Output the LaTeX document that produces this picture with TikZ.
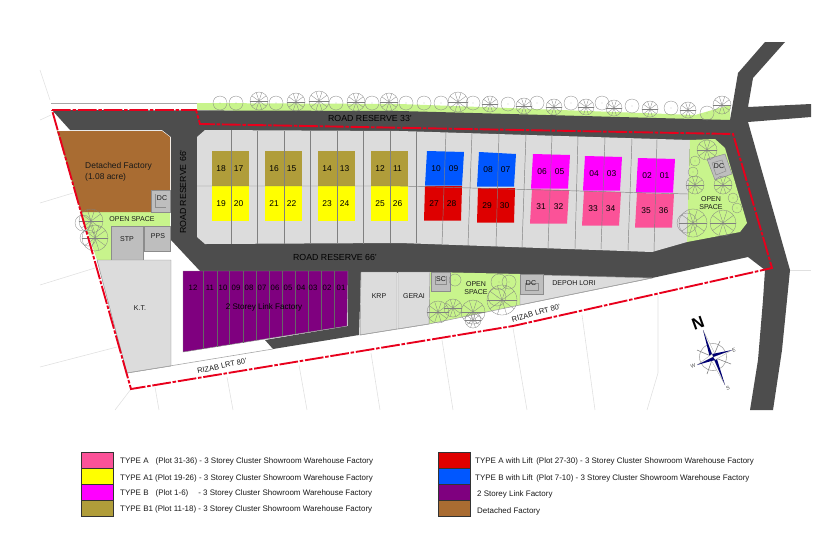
\documentclass[tikz,border=0pt]{standalone}
\usepackage{fontspec}
\setmainfont{Liberation Sans}
\definecolor{roadc}{HTML}{4D4D4D}
\definecolor{lotc}{HTML}{DCDCDC}
\definecolor{greenc}{HTML}{C8F48C}
\definecolor{boxc}{HTML}{BEBEBE}
\definecolor{tyac}{HTML}{FB5298}
\definecolor{tyaoc}{HTML}{FFFF00}
\definecolor{tybc}{HTML}{FF00FF}
\definecolor{tyboc}{HTML}{B09D3A}
\definecolor{tyalc}{HTML}{DE0000}
\definecolor{tyblc}{HTML}{0057FF}
\definecolor{linkc}{HTML}{7F007F}
\definecolor{detc}{HTML}{A96C32}
\definecolor{redline}{HTML}{E8001C}
\tikzset{
  siteline/.style={draw=black!12,line width=0.5pt},
  edgeline/.style={draw=black!45,line width=0.4pt},
  lotline/.style={draw=black!50,line width=0.4pt},
  treeline/.style={draw=black!50,line width=0.25pt},
  boundary/.style={draw=redline,line width=1.6pt,dash pattern=on 16pt off 1.5pt on 3pt off 1.5pt},
  lbl/.style={inner sep=0pt,font=\fontsize{6}{7}\selectfont,text=black!90},
  roadlbl/.style={lbl,font=\fontsize{7.5}{8}\selectfont,text=black},
  numlbl/.style={lbl,font=\fontsize{7.2}{8}\selectfont,text=black},
  keylbl/.style={inner sep=0pt,anchor=west,font=\fontsize{6.8}{8}\selectfont,text=black!90},
  keybox/.style={draw=black!80,line width=0.7pt},
  dirlbl/.style={inner sep=0pt,font=\fontsize{4.5}{5}\selectfont,rotate=20,text=black!70},
}
\newcommand{\plaintree}[3]{\draw[treeline](#1,#2)circle[radius=#3];\fill[black!55](#1,#2)circle[radius=0.4];}
\newcommand{\radtree}[3]{\draw[treeline](#1,#2)circle[radius=#3];\foreach \ang in {0,36,...,324}\draw[treeline](#1,#2)--++(\ang:#3);}
\begin{document}
\begin{tikzpicture}[x=0.03cm,y=-0.03cm]
\useasboundingbox (0,0) rectangle (825,550);
%site lines
\foreach \xa/\ya/\xb/\yb in {40/70/50/100,40/120/51/115,40/203/73/193,40/285/95/268,40/367/117/347,115/410/131/389,155/387/159/410,227/377/233/410,299/365/307/410,371/353/380/410,442/340/453/410,513/328/527/410,582/315/595/410,790/270/811/270}
  \draw[siteline](\xa,\ya)--(\xb,\yb);
\draw[siteline](658,295)--(658,373)--(647,410);
\draw[draw=black!35,line width=0.5pt](51,103)--(197,103);
%green strip
\fill[greenc](197,103)--(400,104)--(695,115)--(730,105)--(730,121)--(197,110)--cycle;
%roads
\fill[roadc](52,110)--(400,111)--(730,120)--(738,73)--(765,42)--(785,42)--(753,78)--(748,107)--(811,104)--(811,117)--(748,122)--(790,270)--(787,300)--(782,350)--(773,410)--(750,410)--(758,360)--(763,300)--(765,270)--(748,257)--(652,278)--(361,272)--(359,335)--(273,349)--(265,340)--(348,326)--(348,271)--(200,271)--(171,240)--(171,137)--(162,130)--(70,130)--cycle;
%plot block
\fill[lotc](197,137)--(205,130)--(400,131)--(690,140)--(687,242)--(652,252)--(400,243)--(205,244)--(197,237)--cycle;
%open spaces
\fill[greenc](690,140)--(715,139)--(725,148)--(747,223)--(740,232)--(687,242)--cycle;
\fill[greenc](81,212)--(170,212)--(170,226)--(111,226)--(111,260)--(97,260)--cycle;
\fill[greenc](430,272)--(520,274)--(520,305)--(429,324)--cycle;
%detached factory
\fill[detc](57,131)--(162,131)--(170,137)--(170,190)--(151,190)--(151,212)--(81,212)--cycle;
\draw[edgeline,fill=boxc](151,190)rectangle(170,212);
\draw[edgeline](155,194)--(155,207)--(166,207);
\draw[edgeline,fill=boxc](111,226)rectangle(143,260);
\draw[edgeline,fill=boxc](144,226)rectangle(170,251);
\draw[edgeline,fill=lotc](97,260)--(171,260)--(171,366)--(127,373)--cycle;
%link factory
\draw[edgeline,fill=linkc](183,271)--(348,271)--(347,326)--(183,352)--cycle;
\foreach \lx in {203,217,229,243,256,269,282,295,308,321,334}
  \draw[lotline,draw=black!60](\lx,271)--(\lx,{352-(\lx-183)*0.1585});
%lower lots
\draw[edgeline,fill=lotc](361,272)--(397,272)--(397,329)--(360,335)--cycle;
\draw[edgeline,fill=lotc](398,272)--(430,272)--(429,324)--(398,329)--cycle;
\draw[edgeline,fill=lotc](543,275)--(652,278)--(520,305)--(520,294)--(543,294)--cycle;
\draw[edgeline,fill=boxc](431,272)rectangle(450,291);
\draw[edgeline](435,276)--(435,284)--(446,284)--(446,276);
\draw[edgeline,fill=boxc](520,274)rectangle(543,294);
\draw[edgeline](525,283)rectangle(538,290);
\draw[edgeline,fill=boxc](707,159)--(725,154)--(732,174)--(715,180)--cycle;
\draw[edgeline](712,163)--(722,160)--(726,171)--(716,175)--cycle;
\draw[black!35,line width=0.5pt](127,373)--(273,349);
\draw[black!35,line width=0.5pt](360,335)--(429,324)--(520,305)--(652,278);
%showroom plots
\foreach \colr/\xa/\ya/\dy/\sl/\na/\nb in {
  tyboc/212/151/0/0/18/17,tyaoc/212/186/0/0/19/20,
  tyboc/265/151/0/0/16/15,tyaoc/265/186/0/0/21/22,
  tyboc/318/151/0/0/14/13,tyaoc/318/186/0/0/23/24,
  tyboc/371/151/0/0/12/11,tyaoc/371/186/0/0/25/26,
  tyblc/427/151/1/2/10/09,tyalc/425/186/0/1/27/28,
  tyblc/479/152/2/2/08/07,tyalc/478/188/0/1/29/30,
  tybc/533/154/1/2/06/05,tyac/532/189/1/2/31/32,
  tybc/585/156/1/2/04/03,tyac/584/191/1/2/33/34,
  tybc/638/158/1/2/02/01,tyac/637/193/1/2/35/36}{
  \fill[\colr](\xa,\ya)--({\xa+37},{\ya+\dy})--({\xa+37-\sl},{\ya+34.5})--({\xa-\sl},{\ya+34.5})--cycle;
  \node[numlbl](n\na\colr)at({\xa+9},{\ya+17.5}){\na};
  \node[numlbl](n\nb\colr)at({\xa+26.5},{\ya+17.5}){\nb};
}
%lot lines
\foreach \xa/\ya/\xb/\yb in {231/130/231/244,257/131/257/244,284/131/284/244,310/131/310/244,337/131/337/244,363/131/363/244,390/131/390/243,416/131/416/243,446/131.5/442/244,472/132.5/468/245,499/133/496/246,526/134/522/247,552/135/548/248,578/136/575/248.5,605/137/601/249,632/138/628/250,657/139/654/251}
  \draw[lotline](\xa,\ya)--(\xb,\yb);
\draw[lotline](197,186)--(400,186)--(688,194);
%trees
\foreach \tx/\ty/\tr in {220/103/7,236/103/7,276/103/7,336/103/7,372/103/7,406/103/7,424/103/7,441/103/7,473/103/7,508/104/7,537/103/7,571/103/7,602/103/7,632/106/7,671/108/7,707/113/7,695/161/5,693/172/5,733/198/5,737/208/5,687/223/10,83/223/8,88/238/8,455/280/6,499/282/8,509/282/7,497/297/9}
  {\plaintree{\tx}{\ty}{\tr}}
\foreach \tx/\ty/\tr in {259/101/9,296/102/9,319/101/10,356/102/9,389/102/9,458/102/10,490/104/8,524/106/8,554/107/8,586/107/8,614/108/8,650/109/8,688/110/8,722/105/9,707/150/10,695/185/9,723/185/9,693/223/14,723/223/13,91/221/12,95/238/13,438/312/11,453/308/9,473/312/12,502/300/15,473/320/8}
  {\radtree{\tx}{\ty}{\tr}}
%boundary
\draw[boundary](52,110)--(196,110)--(200,124)--(733,134)--(772,268)--(513,326)--(131,389)--cycle;
%road and area labels
\node[roadlbl](roadtop)at(370,118){ROAD RESERVE 33'};
\node[roadlbl](roadmid)at(335,257){ROAD RESERVE 66'};
\node[roadlbl,rotate=90](roadleft)at(183,192){ROAD RESERVE 66'};
\node[lbl,font=\fontsize{7.2}{9.5}\selectfont,align=left,anchor=west](detached)at(85,172){Detached Factory\\(1.08 acre)};
\node[lbl](openleft)at(132,219){OPEN SPACE};
\node[lbl](stp)at(127,239){STP};
\node[lbl](pps)at(158,236){PPS};
\node[lbl](dcleft)at(162,198){DC};
\node[lbl](kt)at(140,308){K.T.};
\node[lbl,font=\fontsize{6.9}{8}\selectfont,text=black](linklbl)at(264,307){2 Storey Link Factory};
\foreach \nx/\lnum in {193/12,210/11,223/10,236/09,249/08,262/07,275/06,288/05,301/04,313/03,327/02,341/01}
  \node[lbl,font=\fontsize{6.6}{8}\selectfont,text=black](link\lnum)at(\nx,288){\lnum};
\node[lbl](krp)at(379,296){KRP};
\node[lbl](gerai)at(414,296){GERAI};
\node[lbl](sc)at(441,279){SC};
\node[lbl](dclow)at(531,283){DC};
\node[lbl](depoh)at(574,283){DEPOH LORI};
\node[lbl,align=center](openlow)at(476,288){OPEN\\SPACE};
\node[lbl,align=center](openright)at(711,203){OPEN\\SPACE};
\node[lbl](dcright)at(719,166){DC};
\node[lbl,font=\fontsize{6.4}{8}\selectfont,rotate=11.5](rizableft)at(222,366){RIZAB LRT 80'};
\node[lbl,font=\fontsize{6.4}{8}\selectfont,rotate=16](rizabright)at(536,313){RIZAB LRT 80'};
%compass
\draw[black!35,line width=0.5pt](713,357)circle[radius=13.5];
\foreach \dx/\dy in {720/341,731/364,707/374,697/350}
  \draw[black!50,line width=0.5pt](713,357)--(\dx,\dy);
\foreach \tx/\ty/\sa/\sb/\sc/\sd in {703/330/716/356/710/358,725/385/710/358/716/356,732/350/715/360/712/354,697/365/712/354/715/360}{
  \fill[white,draw=black!40,line width=0.2pt](713,357)--(\tx,\ty)--(\sa,\sb)--cycle;
  \fill[blue!45!black](713,357)--(\tx,\ty)--(\sc,\sd)--cycle;
}
\node[inner sep=0pt,rotate=20,font=\fontsize{14}{14}\bfseries](north)at(698,323){N};
\node[dirlbl](east)at(734,350){E};
\node[dirlbl](west)at(693,366){W};
\node[dirlbl](south)at(728,388){S};
%key
\foreach \colr/\ya/\yb/\xa in {tyac/452/468/81,tyaoc/468/484/81,tybc/484/500/81,tyboc/500/516/81,tyalc/452/468/438,tyblc/468/484/438,linkc/484/500/438,detc/500/516/438}
  \draw[keybox,fill=\colr](\xa,\ya)rectangle({\xa+32},\yb);
\node[keylbl](keya)at(120,461){TYPE A\hspace{6pt}(Plot 31-36) - 3 Storey Cluster Showroom Warehouse Factory};
\node[keylbl](keyaa)at(120,478){TYPE A1 (Plot 19-26) - 3 Storey Cluster Showroom Warehouse Factory};
\node[keylbl](keyb)at(120,493){TYPE B\hspace{6pt}(Plot 1-6)\hspace{8.5pt}- 3 Storey Cluster Showroom Warehouse Factory};
\node[keylbl](keybb)at(120,509){TYPE B1 (Plot 11-18) - 3 Storey Cluster Showroom Warehouse Factory};
\node[keylbl](keyal)at(475,461){TYPE A with Lift\hspace{3pt}(Plot 27-30) - 3 Storey Cluster Showroom Warehouse Factory};
\node[keylbl](keybl)at(475,478){TYPE B with Lift\hspace{3pt}(Plot 7-10) - 3 Storey Cluster Showroom Warehouse Factory};
\node[keylbl](keylink)at(477,494){2 Storey Link Factory};
\node[keylbl](keydet)at(477,511){Detached Factory};
\end{tikzpicture}
\end{document}
